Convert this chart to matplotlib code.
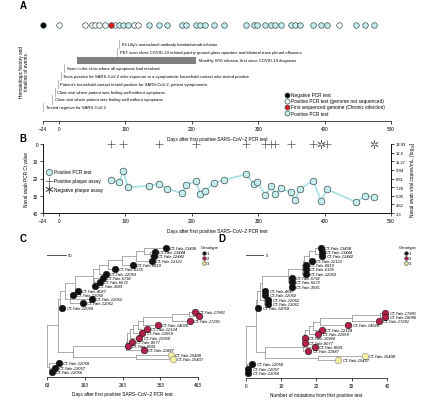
import matplotlib
matplotlib.use('Agg')
import matplotlib.pyplot as plt
from matplotlib.lines import Line2D

plt.rcParams['font.family'] = ['Liberation Sans', 'DejaVu Sans']

W, H = 440, 402

# ---- panel A: PCR test timeline ----
neg_pcr_days = [-24]
pos_unseq_days = [0, 39, 50, 55, 60, 70, 85, 113, 119, 421]
first_seq_days = [79]

event_labels = [
    "Eli Lilly's monoclonal antibody bamlanivimab infusion",
    "PET scan show COVID-19 related patchy ground glass opacities and bilateral trace pleural effusions",
    "Seen in the clinic where all symptoms had resolved",
    "Tests positive for SARS-CoV-2 after exposure to a symptomatic household contact who tested positive",
    "Patient's household contact tested positive for SARS-CoV-2, patient symptomatic",
    "Clinic visit where patient was feeling well without symptoms",
    "Clinic visit where patient was feeling well without symptoms",
    "Tested negative for SARS-CoV-2",
]
event_days = [91, 88, 8, 3, -2, -6, -10, -24]
ivig_start, ivig_end = 27, 206
ivig_label = "Monthly IVIG infusion, first since COVID-19 diagnosis"

# ---- panel B: Ct values ----
pcr_days = [79, 90, 97, 104, 135, 150, 163, 185, 192, 206, 213, 220, 234, 248, 282,
            293, 298, 311, 319, 326, 334, 349, 355, 363, 383, 395, 403, 448, 461, 474]
pcr_ct = [20.7, 22.2, 15.8, 25.1, 24.3, 23.0, 26.1, 28.4, 23.6, 21.6, 28.8, 27.2, 22.4, 20.9, 17.6,
          23.2, 21.8, 29.6, 24.6, 29.0, 25.5, 28.0, 32.3, 26.1, 21.2, 33.2, 26.1, 33.8, 30.0, 30.9]
plaque_pos_days = [79, 97, 150, 206, 282, 311, 319, 326, 349, 383, 403]
plaque_neg_days = [395, 474]
copies_ticks = [13.93, 12.6, 11.27, 9.94, 8.61, 7.28, 5.95, 4.62, 3.3]
copies_labels = ['13.93', '12.6', '11.27', '9.94', '8.61', '7.28', '5.95', '4.62', '3.3']

# ---- panels C/D: phylogenies ----
tip_labels = ['CT-Yale-13438', 'CT-Yale-13444', 'CT-Yale-12442', 'CT-Yale-12121', 'CT-Yale-6819',
              'CT-Yale-6136', 'CT-Yale-12063', 'CT-Yale-5792', 'CT-Yale-5672', 'CT-Yale-3581',
              'CT-Yale-4087', 'CT-Yale-12060', 'CT-Yale-12062', 'CT-Yale-12061', 'CT-Yale-12059',
              'CT-Yale-17881', 'CT-Yale-18096', 'CT-Yale-17291', 'CT-Yale-14028', 'CT-Yale-12124',
              'CT-Yale-11558', 'CT-Yale-10960', 'CT-Yale-8077', 'CT-Yale-8081', 'CT-Yale-11887',
              'CT-Yale-15438', 'CT-Yale-15437', 'CT-Yale-12058', 'CT-Yale-12057', 'CT-Yale-12056']
tip_genotype = [1, 1, 1, 1, 1, 1, 1, 1, 1, 1, 1, 1, 1, 1, 1,
                2, 2, 2, 2, 2, 2, 2, 2, 2, 2, 3, 3, 1, 1, 1]
tip_days = [378, 349, 346, 341, 291, 243, 219, 211, 203, 190, 145, 132, 182, 158, 103,
            455, 466, 442, 357, 328, 315, 307, 288, 277, 320, 391, 396, 95, 84, 76]
tip_muts = [21.3, 21.5, 21.7, 18.7, 17.0, 17.0, 17.0, 13.0, 13.0, 13.0, 5.5, 5.5, 6.4, 6.4, 3.6,
            39.5, 39.5, 37.6, 29.0, 21.5, 20.6, 16.8, 16.8, 19.6, 17.7, 33.8, 26.2, 1.9, 0.7, 0.7]

tree_children = {
    'root': ['A', 'Bot'], 'A': ['T1', 'B'], 'T1': ['T2', 14], 'T2': ['T3', 'S1'],
    'S1': [11, 12, 13], 'T3': ['T4', 10], 'T4': ['T5', 'S2'], 'S2': [7, 8, 9],
    'T5': ['T6', 6], 'T6': ['T7', 5], 'T7': ['T8', 4], 'T8': ['T9', 3],
    'T9': [0, 'T10'], 'T10': [1, 2], 'B': ['R', 'Y'],
    'R': ['R1', 24], 'R1': ['R2', 23], 'R2': ['R3', 22], 'R3': ['R4', 21], 'R4': ['R5', 20],
    'R5': ['R6', 19], 'R6': ['R7', 18], 'R7': ['R8', 17], 'R8': [15, 16],
    'Y': [25, 26], 'Bot': [27, 'Bot2'], 'Bot2': [28, 29],
}
node_days = {'root': 63, 'A': 92, 'T1': 97, 'T2': 110, 'S1': 125, 'T3': 138, 'T4': 185,
             'S2': 188, 'T5': 200, 'T6': 225, 'T7': 262, 'T8': 300, 'T9': 320, 'T10': 335,
             'B': 131, 'R': 272, 'R1': 274, 'R2': 276, 'R3': 282, 'R4': 292, 'R5': 303,
             'R6': 318, 'R7': 395, 'R8': 440, 'Y': 298, 'Bot': 68, 'Bot2': 72}
node_muts = {'root': 0, 'A': 2.8, 'T1': 3.2, 'T2': 4.0, 'S1': 5.3, 'T3': 4.5, 'T4': 12.0,
             'S2': 12.5, 'T5': 16.0, 'T6': 16.3, 'T7': 16.6, 'T8': 18.0, 'T9': 19.5, 'T10': 21.0,
             'B': 5.5, 'R': 16.3, 'R1': 16.5, 'R2': 16.6, 'R3': 16.7, 'R4': 18.0, 'R5': 19.0,
             'R6': 21.0, 'R7': 30.0, 'R8': 38.0, 'Y': 20.6, 'Bot': 0.3, 'Bot2': 0.5}

CYAN = '#c6eded'
CYAN_LINE = '#a9e3e3'
EDGE = '#3a4f4f'
RED = '#e3191f'
GENO_COLORS = {1: '#111111', 2: '#b3204a', 3: '#f3efa0'}
TREE_GRAY = '#8c8c8c'
FS = 3.4


def box(x0, y0, x1, y1):
    """pixel box (top-left / bottom-right) -> figure rect"""
    return [x0 / W, 1 - y1 / H, (x1 - x0) / W, (y1 - y0) / H]


def style_axis(ax):
    for s in ax.spines.values():
        s.set_linewidth(0.5)
    ax.tick_params(length=2, width=0.5, labelsize=FS, pad=1.5)


fig = plt.figure(figsize=(W / 100, H / 100), dpi=100)

# ------------------------------------------------ A
axA = fig.add_axes(box(43, 15, 391, 122))
style_axis(axA)
for s in ['left', 'top', 'right']:
    axA.spines[s].set_visible(False)
axA.set_xlim(-24, 500)
axA.set_ylim(122, 15)
axA.set_yticks([])
axA.set_xticks([-24, 0, 100, 200, 300, 400, 500])
axA.set_xlabel('Days after first positive SARS\u2013CoV\u20132 PCR test', fontsize=FS, labelpad=4)

row = 26
dot = dict(ls='none', marker='o', ms=4, mew=0.5, mec=EDGE, clip_on=False)
axA.plot(neg_pcr_days, [row] * len(neg_pcr_days), mfc='black', **dot)
axA.plot(pos_unseq_days, [row] * len(pos_unseq_days), mfc='white', **dot)
axA.plot(pcr_days[1:], [row] * len(pcr_days[1:]), mfc=CYAN, **dot)
axA.plot(first_seq_days, [row] * len(first_seq_days), mfc=RED, **dot)

ev_rows = [45, 53, 69, 77, 85, 93, 100.5, 108]
for lab, d, y in zip(event_labels, event_days, ev_rows):
    axA.plot([d, d], [y - 4.5, y + 4], color='#9a9a9a', lw=0.5)
    axA.annotate(lab, xy=(d, y), xytext=(1.8, 0), textcoords='offset points',
                 fontsize=3.0, va='center', ha='left')
axA.barh(61, ivig_end - ivig_start, left=ivig_start, height=7, color='#7f7f7f')
axA.annotate(ivig_label, xy=(ivig_end, 61), xytext=(2, 0), textcoords='offset points',
             fontsize=3.0, va='center', ha='left')

leg_a = [('black', 'Negative PCR test'),
         ('white', 'Positive PCR test (genome not sequenced)'),
         (RED, 'First sequenced genome (Chronic infection)'),
         (CYAN, 'Positive PCR test')]
for i, (c, lab) in enumerate(leg_a):
    y = 96 + i * 6
    axA.plot([343], [y], marker='o', ms=3.6, mew=0.5, mec=EDGE, mfc=c, clip_on=False)
    axA.text(349, y, lab, fontsize=FS, va='center', ha='left')

fig.text(24 / W, 1 - 72 / H, 'Hematologic history and\ntimeline of events', rotation=90,
         ha='center', va='center', fontsize=FS, linespacing=1.1)

# ------------------------------------------------ B
axB = fig.add_axes(box(43, 145, 391, 214))
style_axis(axB)
axB.spines['top'].set_visible(False)
axB.set_xlim(-24, 500)
axB.set_ylim(40, 0)
axB.set_yticks([0, 10, 20, 30, 40])
axB.set_xticks([-24, 0, 100, 200, 300, 400, 500])
axB.plot(pcr_days, pcr_ct, color=CYAN_LINE, lw=1.3, zorder=1)
axB.plot(pcr_days, pcr_ct, ls='none', marker='o', ms=4.8, mfc=CYAN, mec=EDGE, mew=0.5, zorder=2)
axB.plot(plaque_pos_days, [0] * len(plaque_pos_days), ls='none', marker='+', ms=6,
         mew=0.5, color='#555555', clip_on=False)
axB.plot(plaque_neg_days, [0] * len(plaque_neg_days), ls='none', marker=(6, 2, 0), ms=6,
         mew=0.5, color='#555555', clip_on=False)
axB.plot(plaque_neg_days, [0] * len(plaque_neg_days), ls='none', marker='o', ms=2.2,
         mew=0.4, mfc='white', mec='#555555', clip_on=False)
axB.set_xlabel('Days after first positive SARS\u2013CoV\u20132 PCR test', fontsize=FS, labelpad=4)
axB.set_ylabel('Nasal swab PCR Ct value', fontsize=FS, labelpad=3)

legB = [('o', 'Positive PCR test'), ('+', 'Positive plaque assay'), ((6, 2, 0), 'Negative plaque assay')]
for i, (m, lab) in enumerate(legB):
    y = 16.2 + i * 5.0
    if m == 'o':
        axB.plot([-15], [y], marker='o', ms=4.4, mfc=CYAN, mec=EDGE, mew=0.5)
    else:
        axB.plot([-15], [y], marker=m, ms=6, mew=0.5, color='#555555')
    axB.text(-8, y, lab, fontsize=FS, va='center', ha='left')

axR = axB.twinx()
style_axis(axR)
axR.spines['top'].set_visible(False)
axR.set_ylim(3.3, 13.93)
axR.set_yticks(copies_ticks)
axR.set_yticklabels(copies_labels)
axR.tick_params(labelsize=3.0)
axR.set_ylabel('Nasal swab viral copies/mL, [log\u2081\u2080]', fontsize=FS, labelpad=3)


# ------------------------------------------------ C / D
def draw_tree(ax, node_x, tip_x, label_off):
    def walk(node, parent_x):
        if isinstance(node, int):
            x, y = tip_x[node], node
        else:
            x = node_x[node]
            ys = [walk(c, x) for c in tree_children[node]]
            y = (min(ys) + max(ys)) / 2
            ax.plot([x, x], [min(ys), max(ys)], color=TREE_GRAY, lw=0.5, clip_on=False, zorder=1)
        ax.plot([parent_x, x], [y, y], color=TREE_GRAY, lw=0.5, clip_on=False, zorder=1)
        return y

    walk('root', node_x['root'])
    for i, (lab, g, x) in enumerate(zip(tip_labels, tip_genotype, tip_x)):
        ax.plot([x], [i], marker='o', ms=4.7, mfc=GENO_COLORS[g],
                mec='#111111' if g != 3 else '#888888', mew=0.4, clip_on=False, zorder=3)
        ax.annotate(lab, xy=(x, i), xytext=(label_off, 0), textcoords='offset points',
                    fontsize=3.0, style='italic', va='center', ha='left', zorder=4)


def geno_legend(x_text, x_mark):
    fig.text(x_text / W, 1 - 248 / H, 'Genotype', fontsize=3.0, ha='left', va='center')
    for i, g in enumerate([1, 2, 3]):
        y = 254 + i * 5
        fig.add_artist(Line2D([x_mark / W], [1 - y / H], marker='o', ms=2.6, mew=0.4,
                              mfc=GENO_COLORS[g], mec='#333333', ls='none'))
        fig.text((x_mark + 3) / W, 1 - y / H, str(g), fontsize=3.0, ha='left', va='center')


axC = fig.add_axes(box(47, 245, 198, 378))
style_axis(axC)
for s in ['left', 'top', 'right']:
    axC.spines[s].set_visible(False)
axC.set_yticks([])
axC.set_xlim(63, 463)
axC.set_ylim(30.2, -0.9)
axC.set_xticks([63, 163, 263, 363, 463])
axC.set_xlabel('Days after first positive SARS\u2013CoV\u20132 PCR test', fontsize=FS, labelpad=3)
draw_tree(axC, node_days, tip_days, 3.0)
axC.plot([63, 113], [1.6, 1.6], color='#333333', lw=0.6, clip_on=False)
axC.text(119, 1.6, '50', fontsize=3.0, va='center', ha='left')
geno_legend(201, 204)

axD = fig.add_axes(box(245.7, 245, 387, 379))
style_axis(axD)
for s in ['left', 'top', 'right']:
    axD.spines[s].set_visible(False)
axD.set_yticks([])
axD.set_xlim(0, 40)
axD.set_ylim(30.2, -0.9)
axD.set_xticks([0, 10, 20, 30, 40])
axD.set_xlabel('Number of mutations from first positive test', fontsize=FS, labelpad=3)
draw_tree(axD, node_muts, tip_muts, 3.0)
axD.plot([0, 5], [1.6, 1.6], color='#333333', lw=0.6, clip_on=False)
axD.text(5.7, 1.6, '5', fontsize=3.0, va='center', ha='left')
geno_legend(399, 406)

for lab, (x, y) in zip(['A', 'B', 'C', 'D'], [(23, 6), (23, 139), (23, 239), (222, 239)]):
    fig.text(x / W, 1 - y / H, lab, fontsize=7, fontweight='bold', ha='center', va='center')

fig.savefig('out.png', dpi=100)
